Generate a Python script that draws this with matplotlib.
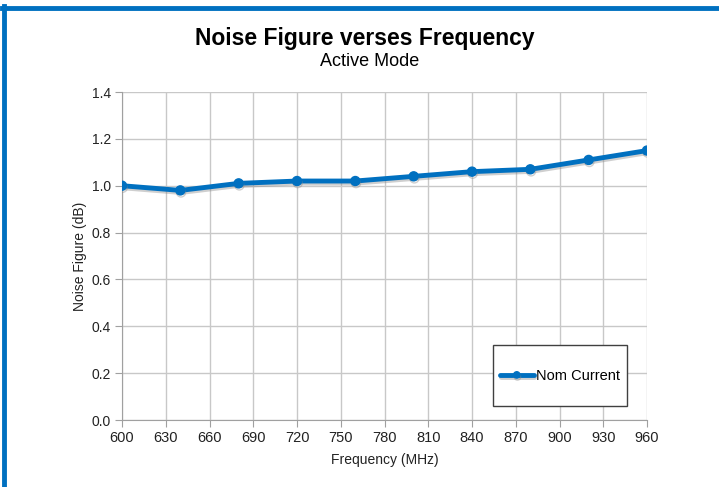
import matplotlib.pyplot as plt
from matplotlib.lines import Line2D
from matplotlib.patches import Rectangle
import matplotlib.patheffects as pe

plt.rcParams['font.family'] = ['Liberation Sans', 'DejaVu Sans']

freq = [600, 640, 680, 720, 760, 800, 840, 880, 920, 960]
nf = [1.00, 0.98, 1.01, 1.02, 1.02, 1.04, 1.06, 1.07, 1.11, 1.15]
xticks = list(range(600, 961, 30))
yticks = [0.0, 0.2, 0.4, 0.6, 0.8, 1.0, 1.2, 1.4]

blue = '#0070C0'
grid_c = '#C8C8C8'

fig = plt.figure(figsize=(7.19, 4.87), dpi=100)
ax = fig.add_axes([122/719, 1-420/487, (647-122)/719, (420-92)/487])

ax.plot(freq, nf, color=blue, lw=3.5, marker='o', ms=6.5, solid_capstyle='round',
        label='Nom Current',
        path_effects=[pe.SimpleLineShadow(offset=(0.5, -1.5), shadow_color='#888888', alpha=0.4),
                      pe.Normal()], zorder=3)

ax.set_xlim(600, 960)
ax.set_ylim(0, 1.4)
ax.set_xticks(xticks)
ax.set_yticks(yticks)
ax.set_yticklabels([f'{v:.1f}' for v in yticks])
ax.grid(True, color=grid_c, lw=1)
for s in ['top', 'right']:
    ax.spines[s].set_visible(False)
for s in ['left', 'bottom']:
    ax.spines[s].set_color('#A0A0A0')
ax.tick_params(axis='both', colors='#A0A0A0', labelcolor='#222222', labelsize=10, length=5, pad=3)
ax.tick_params(axis='x', labelsize=10.5)

ax.set_xlabel('Frequency (MHz)', fontsize=10, color='#222222', labelpad=6)
ax.set_ylabel('Noise Figure (dB)', fontsize=10, color='#222222', labelpad=3)

fig.text(0.507, 1-38/487, 'Noise Figure verses Frequency', ha='center', va='center',
         fontsize=16.5, fontweight='bold')
fig.text(0.514, 1-62/487, 'Active Mode', ha='center', va='center', fontsize=13)

# legend box
ax.add_patch(Rectangle((493/719, 1-406/487), (627-493)/719, (406-345)/487,
                       transform=fig.transFigure, facecolor='white',
                       edgecolor='#404040', lw=1, zorder=5, clip_on=False))
leg = ax.legend(loc='center left', bbox_to_anchor=((500-122)/525, (420-376)/328),
                fontsize=10.5, frameon=False, handlelength=2.3, handletextpad=0.15,
                borderaxespad=0, borderpad=0, markerscale=0.7)
leg.set_zorder(6)

# blue frame on top and left
fig.add_artist(Line2D([2/719, 1], [1-7.5/487, 1-7.5/487], color=blue, lw=3.5))
fig.add_artist(Line2D([4/719, 4/719], [0, 1-6/487], color=blue, lw=3.5))

fig.savefig('out.png', dpi=100)
